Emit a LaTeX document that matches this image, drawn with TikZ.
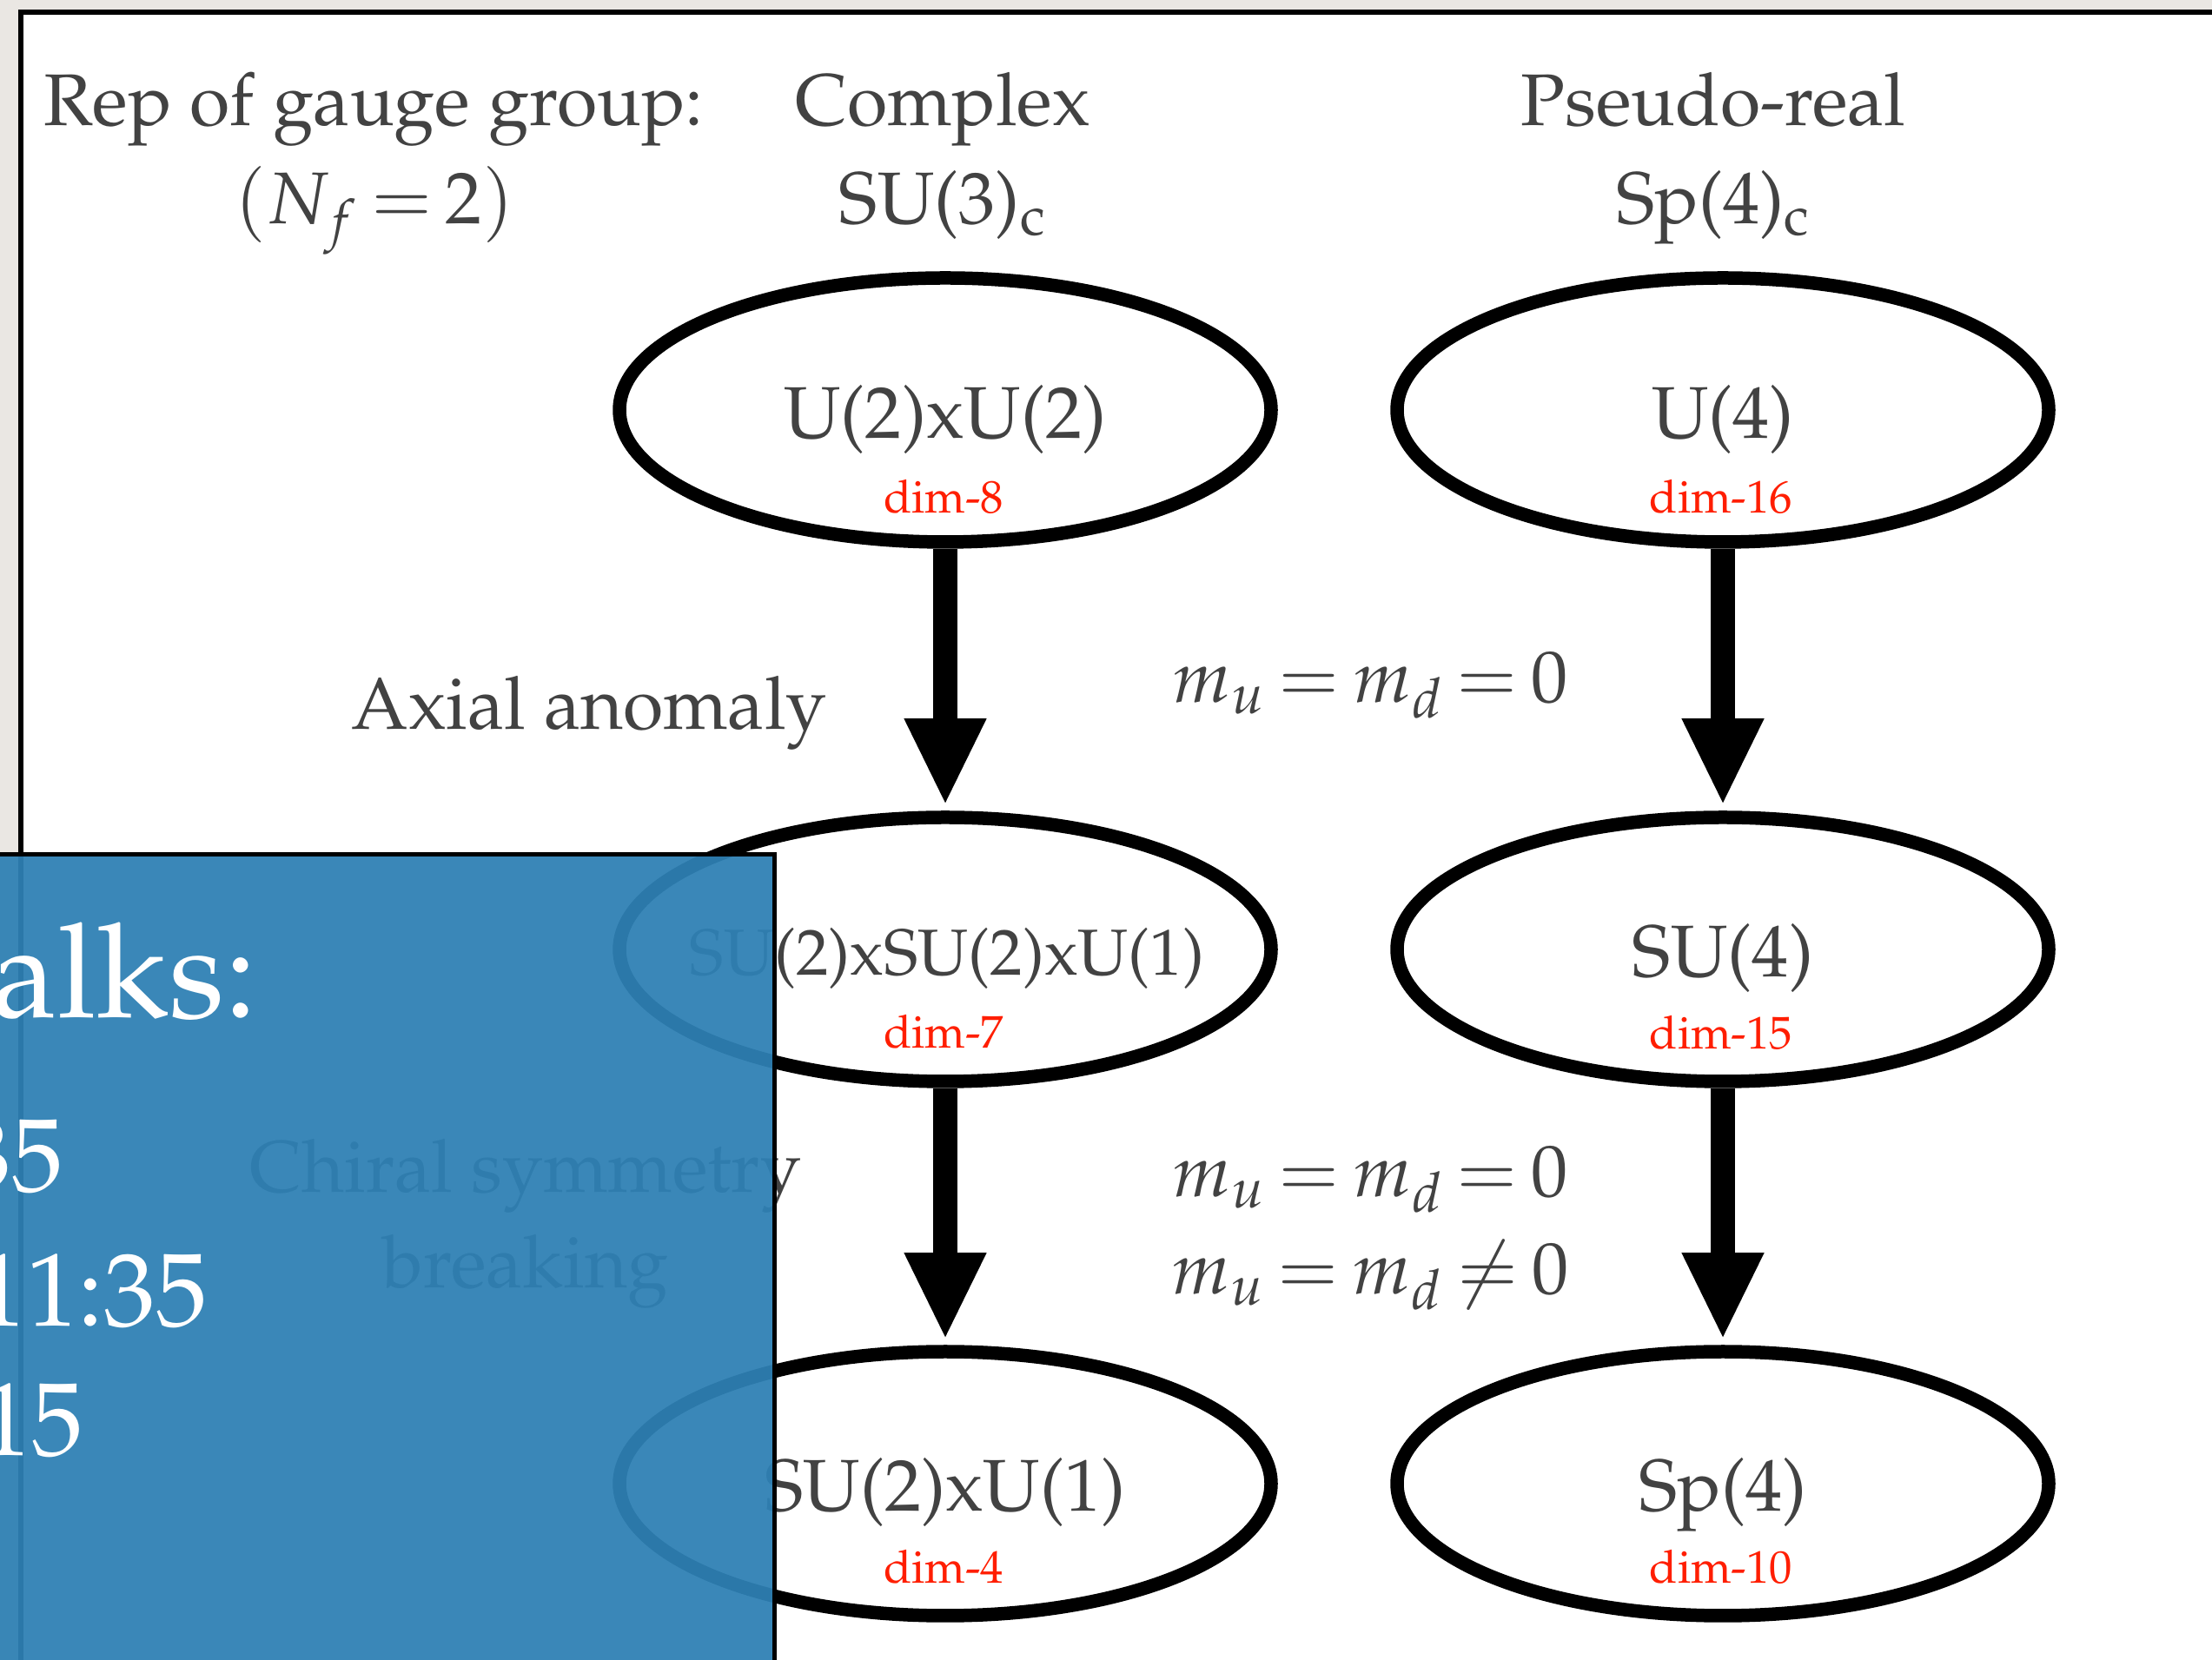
\documentclass[tikz,border=0pt]{standalone}
\usepackage[T1]{fontenc}
\usepackage{mathpazo}
\usepackage{tikz}
\usetikzlibrary{shapes.geometric,arrows.meta}
\definecolor{txtgrey}{RGB}{66,66,66}
\definecolor{dimred}{RGB}{255,30,0}
\definecolor{slidebg}{RGB}{234,231,227}
\definecolor{talkblue}{RGB}{46,128,180}
\thickmuskip=3.3mu
\tikzset{
  grp/.style={draw, ellipse, line width=0.155cm, minimum width=7.5cm, minimum height=3.04cm, inner sep=0pt},
  lbl/.style={text=txtgrey, font=\fontsize{24}{28}\selectfont, anchor=base, inner sep=0pt},
  dimlbl/.style={text=dimred, font=\fontsize{15}{18}\selectfont, anchor=base, inner sep=0pt},
  flow/.style={line width=0.286cm, -{Triangle[width=0.87cm,length=1.0cm]}, shorten >=0.6mm},
  talk/.style={text=white, anchor=base east, inner sep=0pt}
}
\begin{document}
\begin{tikzpicture}
\useasboundingbox (0,0) rectangle (25.46,19.11);
\fill[slidebg] (0,0) rectangle (25.46,19.11);
\draw[line width=0.06cm, fill=white] (0.24,-1) rectangle (26.5,18.97);

\node[lbl] at (4.30,17.66) {Rep of gauge group:};
\node[lbl] at (4.31,16.53) {$(N_f = 2)$};
\node[lbl] at (10.85,17.66) {Complex};
\node[lbl] at (10.85,16.53) {SU(3)$_\mathrm{c}$};
\node[lbl] at (19.72,17.66) {Pseudo-real};
\node[lbl] at (19.72,16.53) {Sp(4)$_\mathrm{c}$};

\node[grp] (u2u2) at (10.88,14.39) {};
\node[grp] (u4) at (19.83,14.39) {};
\node[grp] (su2su2u1) at (10.88,8.18) {};
\node[grp] (su4) at (19.83,8.18) {};
\node[grp] (su2u1) at (10.88,2.03) {};
\node[grp] (sp4) at (19.83,2.03) {};

\node[lbl] at (10.88,14.06) {U(2)xU(2)};
\node[dimlbl] at (10.86,13.20) {dim-8};
\node[lbl] at (19.83,14.06) {U(4)};
\node[dimlbl] at (19.81,13.20) {dim-16};
\node[lbl, font=\fontsize{21.3}{25}\selectfont] at (10.90,7.88) {SU(2)xSU(2)xU(1)};
\node[dimlbl] at (10.86,7.04) {dim-7};
\node[lbl] at (19.83,7.86) {SU(4)};
\node[dimlbl] at (19.81,7.03) {dim-15};
\node[lbl] at (10.88,1.71) {SU(2)xU(1)};
\node[dimlbl] at (10.86,0.88) {dim-4};
\node[lbl] at (19.83,1.71) {Sp(4)};
\node[dimlbl] at (19.81,0.88) {dim-10};

\draw[flow] (u2u2.south) -- (su2su2u1.north);
\draw[flow] (u4.south) -- (su4.north);
\draw[flow] (su2su2u1.south) -- (su2u1.north);
\draw[flow] (su4.south) -- (sp4.north);

\node[lbl] at (6.78,10.71) {Axial anomaly};
\node[lbl] at (15.77,11.02) {$m_u = m_d = 0$};
\node[lbl] at (6.05,5.38) {Chiral symmetry};
\node[lbl] at (6.05,4.28) {breaking};
\node[lbl] at (15.77,5.33) {$m_u = m_d = 0$};
\node[lbl] at (15.77,4.21) {$m_u = m_d \neq 0$};

\draw[line width=0.05cm, fill=talkblue, fill opacity=0.94] (-1,-1) rectangle (8.91,9.27);
\node[talk, font=\fontsize{43}{50}\selectfont] at (2.97,7.39) {alks:};
\node[talk, font=\fontsize{34}{40}\selectfont] at (0.74,5.39) {35};
\node[talk, font=\fontsize{34}{40}\selectfont] at (2.40,3.84) {11:35};
\node[talk, font=\fontsize{34}{40}\selectfont] at (0.97,2.35) {15};

\end{tikzpicture}
\end{document}
